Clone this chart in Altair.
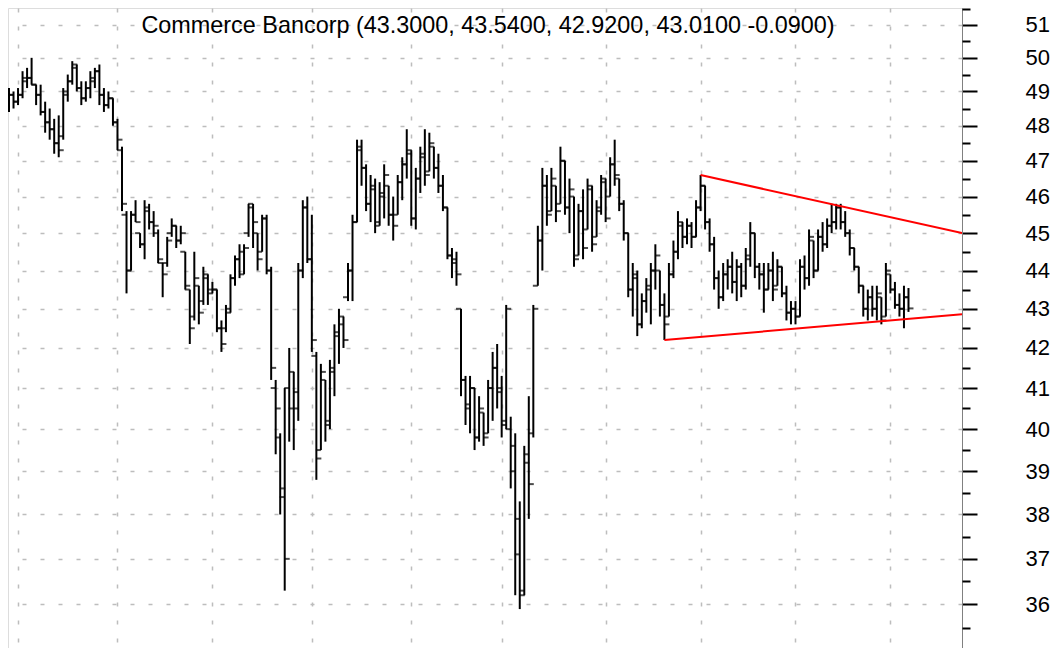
import altair as alt
import pandas as pd

# ---- data (one entry per trading day) ----
highs = [
    49.1, 49.0, 49.1, 49.6, 49.7, 50.0, 49.2, 49.2, 48.7, 48.5,
    48.2, 48.3, 49.1, 49.5, 49.9, 49.8, 49.3, 49.3, 49.6, 49.7,
    49.8, 49.1, 49.0, 48.8, 48.2, 47.4, 45.6, 45.6, 45.9, 45.0,
    45.9, 45.8, 45.6, 45.1, 44.2, 44.9, 45.4, 45.2, 45.2, 44.5,
    43.5, 44.5, 43.6, 44.1, 43.9, 43.7, 43.5, 42.7, 43.1, 43.9,
    44.4, 44.7, 44.7, 45.8, 45.8, 45.0, 45.5, 45.5, 44.1, 41.2,
    39.9, 41.0, 42.0, 41.4, 44.2, 45.9, 46.0, 45.5, 41.9, 41.6,
    41.2, 41.7, 42.6, 43.0, 42.8, 44.2, 45.5, 47.6, 47.6, 46.9,
    46.6, 46.5, 46.4, 46.9, 46.3, 46.0, 46.6, 47.1, 47.9, 47.3,
    46.8, 47.4, 47.9, 47.8, 47.4, 47.2, 46.6, 45.7, 44.6, 44.5,
    43.0, 41.3, 41.3, 41.0, 40.8, 40.4, 41.2, 41.9, 42.1, 41.3,
    43.1, 40.3, 39.9, 38.3, 39.6, 40.8, 43.1, 45.2, 46.8, 46.6,
    46.8, 46.3, 47.4, 47.0, 46.5, 46.0, 45.8, 46.2, 46.5, 46.3,
    45.9, 46.6, 46.5, 47.1, 47.6, 46.5, 45.9, 45.0, 44.2, 44.0,
    43.4, 43.8, 44.2, 44.7, 44.0, 43.4, 44.2, 44.8, 45.6, 45.3,
    45.4, 45.3, 45.9, 46.6, 46.3, 45.4, 44.9, 44.0, 44.2, 44.3,
    44.5, 44.3, 44.2, 44.6, 45.3, 45.0, 44.2, 44.2, 44.2, 44.5,
    44.3, 44.1, 43.6, 43.2, 43.2, 44.3, 44.4, 45.1, 44.8, 45.1,
    45.3, 45.4, 45.8, 45.8, 45.8, 45.6, 45.1, 44.6, 44.1, 43.6,
    43.5, 43.6, 43.6, 43.3, 44.2, 43.9, 43.7, 43.4, 43.6, 43.54,
]
lows = [
    48.4, 48.5, 48.6, 48.8, 49.1, 49.2, 48.6, 48.3, 47.8, 47.6,
    47.2, 47.1, 47.6, 48.7, 49.2, 49.0, 48.6, 48.7, 48.8, 49.1,
    48.6, 48.4, 48.5, 48.0, 47.3, 45.6, 43.4, 44.0, 45.3, 44.6,
    44.3, 45.1, 44.9, 44.2, 43.3, 44.1, 44.9, 44.6, 44.7, 43.5,
    42.1, 42.7, 42.6, 43.1, 43.1, 43.4, 42.4, 41.9, 42.4, 42.9,
    43.6, 43.8, 43.9, 44.9, 44.6, 44.0, 44.5, 43.9, 41.2, 39.4,
    38.0, 36.3, 39.7, 39.5, 40.2, 43.8, 44.2, 41.9, 38.8, 39.5,
    39.7, 40.0, 40.8, 41.6, 42.0, 43.2, 43.2, 45.3, 46.3, 45.6,
    45.3, 45.0, 45.2, 45.4, 45.2, 44.8, 45.5, 45.9, 46.5, 45.2,
    45.1, 46.1, 46.3, 46.7, 46.5, 46.1, 45.6, 44.3, 43.8, 43.6,
    40.8, 40.1, 39.9, 39.5, 39.7, 39.6, 39.9, 40.2, 40.5, 39.8,
    40.0, 38.6, 36.2, 35.9, 36.2, 37.9, 39.8, 43.6, 44.0, 45.2,
    45.6, 45.3, 45.8, 45.5, 45.0, 44.1, 44.4, 44.3, 45.1, 44.5,
    44.9, 45.5, 45.3, 46.0, 46.3, 45.6, 44.8, 43.3, 42.8, 42.3,
    42.5, 42.9, 42.6, 43.5, 42.8, 42.2, 42.8, 43.8, 44.3, 44.6,
    44.7, 44.6, 44.9, 45.6, 45.1, 44.5, 43.5, 43.0, 43.2, 43.5,
    43.4, 43.2, 43.3, 43.5, 44.1, 43.8, 43.5, 42.9, 43.5, 43.2,
    43.6, 43.3, 42.7, 42.6, 42.6, 42.8, 43.5, 43.6, 43.8, 44.0,
    44.5, 44.6, 45.0, 45.1, 45.1, 44.9, 44.4, 44.0, 43.4, 42.8,
    42.7, 42.8, 42.7, 42.6, 42.8, 43.4, 43.0, 42.8, 42.5, 42.92,
]
opens = [
    48.6, 48.9, 48.7, 48.9, 49.3, 49.4, 49.2, 48.9, 48.4, 48.1,
    47.9, 47.5, 47.7, 49.0, 49.3, 49.7, 49.1, 48.8, 49.1, 49.3,
    49.6, 48.9, 48.6, 48.8, 48.1, 47.3, 45.5, 44.0, 45.5, 45.0,
    44.7, 45.6, 45.3, 45.0, 44.2, 44.2, 45.0, 45.2, 44.8, 44.5,
    43.5, 42.8, 43.6, 43.2, 43.8, 43.5, 43.5, 42.5, 42.5, 43.0,
    43.8, 44.3, 43.9, 45.0, 45.8, 45.0, 44.5, 45.4, 44.0, 41.0,
    39.8, 38.4, 41.0, 40.5, 40.5, 44.0, 45.7, 44.3, 41.8, 39.5,
    41.2, 40.1, 41.5, 42.3, 42.6, 43.3, 44.0, 45.3, 47.3, 46.8,
    45.8, 46.2, 45.2, 46.0, 46.3, 45.5, 45.5, 46.4, 46.9, 47.2,
    45.4, 46.5, 47.1, 46.7, 47.4, 46.8, 46.3, 45.7, 44.4, 44.2,
    43.0, 41.2, 40.5, 41.0, 39.8, 40.4, 39.9, 41.0, 41.5, 41.0,
    40.2, 40.0, 39.6, 37.1, 36.3, 39.4, 39.9, 43.6, 44.8, 46.3,
    45.6, 46.3, 45.8, 47.0, 45.7, 46.0, 44.4, 45.6, 45.1, 46.2,
    44.9, 45.6, 46.4, 46.0, 46.9, 46.5, 45.8, 45.0, 43.5, 43.8,
    42.6, 43.2, 43.5, 44.0, 44.0, 43.1, 42.8, 43.9, 44.5, 45.2,
    44.9, 45.2, 44.9, 45.7, 46.3, 45.3, 44.7, 43.8, 43.3, 43.9,
    44.1, 43.7, 44.1, 43.6, 44.3, 45.0, 44.1, 43.9, 43.5, 44.0,
    43.6, 44.1, 43.4, 42.9, 43.0, 42.8, 44.1, 43.8, 44.8, 44.0,
    44.9, 44.7, 45.2, 45.3, 45.7, 45.3, 45.0, 44.6, 44.1, 43.6,
    43.0, 43.3, 43.0, 43.3, 42.8, 43.9, 43.5, 43.1, 43.0, 43.30,
]
closes = [
    48.9, 48.7, 48.9, 49.4, 49.4, 49.2, 48.9, 48.4, 48.1, 47.9,
    47.5, 47.3, 48.9, 49.3, 49.8, 49.1, 48.8, 49.1, 49.4, 49.6,
    48.9, 48.6, 48.8, 48.1, 47.6, 45.8, 44.0, 45.5, 45.3, 44.7,
    45.7, 45.3, 45.2, 44.3, 43.9, 44.8, 45.2, 44.8, 45.0, 43.6,
    42.5, 43.8, 42.9, 43.9, 43.4, 43.5, 42.5, 42.1, 42.9, 43.8,
    44.3, 44.5, 44.6, 45.7, 45.3, 44.3, 45.4, 44.0, 41.5, 40.5,
    38.6, 37.0, 41.4, 40.9, 44.0, 45.7, 44.3, 42.2, 39.3, 41.4,
    40.2, 41.4, 42.4, 42.8, 42.2, 44.0, 45.3, 47.4, 46.8, 45.8,
    46.3, 45.3, 46.1, 46.6, 45.5, 45.2, 46.4, 46.9, 47.3, 45.4,
    46.5, 47.2, 46.6, 47.5, 46.8, 46.3, 45.7, 44.4, 44.3, 43.9,
    41.2, 40.6, 41.0, 39.8, 40.5, 39.8, 41.0, 41.5, 40.9, 40.1,
    43.0, 39.0, 37.9, 36.2, 39.2, 38.7, 43.0, 44.8, 46.3, 45.5,
    46.5, 45.6, 47.0, 45.7, 46.2, 44.3, 45.6, 44.6, 46.3, 44.7,
    45.7, 46.5, 45.4, 46.9, 46.6, 45.8, 45.0, 43.5, 43.9, 42.6,
    43.2, 43.6, 44.0, 44.4, 43.1, 42.6, 43.9, 44.5, 45.3, 44.9,
    45.2, 44.9, 45.7, 46.3, 45.3, 44.7, 43.8, 43.3, 43.9, 44.1,
    43.7, 44.1, 43.6, 44.4, 45.0, 44.1, 43.9, 43.5, 44.0, 43.5,
    44.1, 43.4, 42.9, 43.0, 42.8, 44.1, 43.8, 44.9, 44.0, 44.9,
    44.7, 45.2, 45.3, 45.7, 45.3, 45.0, 44.6, 44.1, 43.6, 43.0,
    43.3, 43.0, 43.4, 42.7, 44.0, 43.5, 43.1, 43.0, 43.3, 43.01,
]
day_index = list(range(len(highs)))

# first trading day of each month (vertical grid)
month_starts = [2, 24, 45, 67, 89, 109, 132, 153, 174, 195]

# drawn trend lines (day index, price)
upper_days = [153, 210.84]
upper_prices = [46.6, 45.0]
lower_days = [145, 210.84]
lower_prices = [42.2, 42.86]

major_ticks = list(range(35, 52))
minor_ticks = [v + 0.5 for v in range(35, 52)]

title_text = "Commerce Bancorp (43.3000, 43.5400, 42.9200, 43.0100 -0.0900)"

FONT = "Liberation Sans"

bars = pd.DataFrame({"day": day_index, "open": opens, "high": highs,
                     "low": lows, "close": closes})
upper = pd.DataFrame({"day": upper_days, "price": upper_prices})
lower = pd.DataFrame({"day": lower_days, "price": lower_prices})
title_df = pd.DataFrame({"t": [title_text]})

yscale = alt.Scale(type="log", domain=[35.07, 51.52], nice=False, zero=False)
xscale = alt.Scale(domain=[-0.22, 210.84], nice=False, zero=False)

x_enc = alt.X("day:Q", scale=xscale,
              axis=alt.Axis(values=month_starts, grid=True, labels=False,
                            ticks=False, domain=False, title=None,
                            gridDash=[4, 14], gridColor="#bdbdbd",
                            gridWidth=1.5))

major_axis = alt.Axis(orient="right", values=major_ticks, format="d",
                      tickSize=15, tickWidth=2, tickColor="black",
                      domainColor="#808080", domainWidth=1,
                      labelFontSize=22, labelFont=FONT, labelColor="black",
                      labelPadding=48, labelAlign="left",
                      labelBaseline="middle", labelOverlap=False,
                      labelFlush=False, grid=True, gridDash=[4, 14],
                      gridColor="#bdbdbd", gridWidth=1.5, title=None)
minor_axis = alt.Axis(orient="right", values=minor_ticks, tickSize=8,
                      tickWidth=2, tickColor="black", labels=False,
                      domain=False, grid=False, title=None)

wicks = alt.Chart(bars).mark_rule(color="black", strokeWidth=2, clip=True).encode(
    x=x_enc,
    y=alt.Y("low:Q", scale=yscale, axis=major_axis),
    y2="high:Q",
)
open_ticks = alt.Chart(bars).mark_tick(
    orient="horizontal", color="black", size=5, thickness=2, xOffset=-2.5,
    clip=True
).encode(x="day:Q", y=alt.Y("open:Q", scale=yscale, axis=minor_axis))
close_ticks = alt.Chart(bars).mark_tick(
    orient="horizontal", color="black", size=5, thickness=2, xOffset=2.5,
    clip=True
).encode(x="day:Q", y=alt.Y("close:Q", scale=yscale, axis=None))

upper_line = alt.Chart(upper).mark_line(color="#ff0000", strokeWidth=2, clip=True).encode(
    x="day:Q", y=alt.Y("price:Q", scale=yscale, axis=None))
lower_line = alt.Chart(lower).mark_line(color="#ff0000", strokeWidth=2, clip=True).encode(
    x="day:Q", y=alt.Y("price:Q", scale=yscale, axis=None))

title_mark = alt.Chart(title_df).mark_text(
    font=FONT, fontSize=23.4, color="black", align="center",
    baseline="alphabetic"
).encode(text="t:N", x=alt.value(480), y=alt.value(25))

chart = alt.layer(
    wicks, open_ticks, close_ticks, upper_line, lower_line, title_mark
).resolve_axis(y="independent").properties(
    width=954, height=640, padding=0
).configure_view(strokeWidth=0).configure(background="white")

chart.save("out.html", embed_options={"renderer": "svg", "actions": False})
